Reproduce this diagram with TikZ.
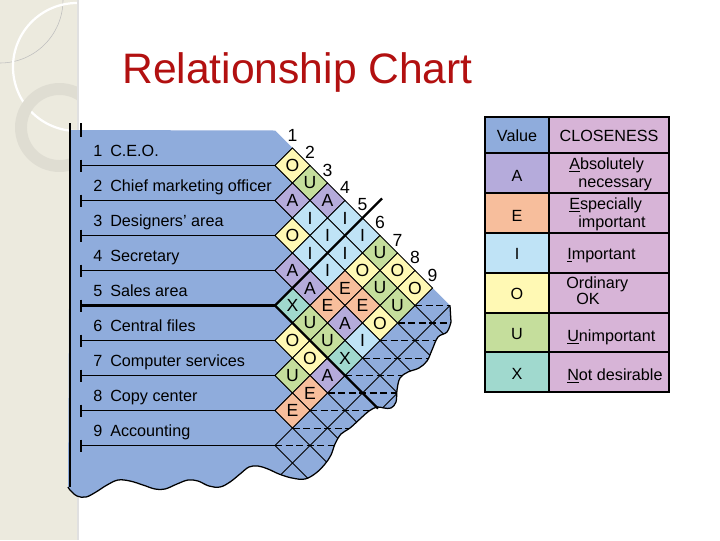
\documentclass[tikz,border=0pt]{standalone}
\usepackage{fontspec}
\setmainfont{Liberation Sans}
\usepackage{tikz}

\definecolor{chartblue}{RGB}{143,172,220}
\definecolor{cA}{RGB}{181,171,219}
\definecolor{cE}{RGB}{247,190,156}
\definecolor{cI}{RGB}{191,227,246}
\definecolor{cO}{RGB}{255,249,180}
\definecolor{cU}{RGB}{197,222,156}
\definecolor{cX}{RGB}{160,217,206}
\definecolor{closepink}{RGB}{215,180,215}
\definecolor{stripbeige}{RGB}{236,234,222}
\definecolor{ringgray}{RGB}{223,221,210}
\definecolor{titlered}{RGB}{178,16,16}

% torn right and bottom edge of the chart
\def\tornedge{-- (450,305.5) -- plot[smooth, tension=0.6] coordinates {(451,322) (447,332) (438,337) (432,350) (427,361) (419,368) (408,372) (400,378) (397,390) (396,402) (391,408) (384,408) (377,407) (369,411) (361,418) (350,428) (341,434) (335,444) (331,455) (325,464) (316,473) (305,479) (292,478) (279,474) (268,469) (258,466) (249,467) (240,474) (230,482) (220,487) (209,486) (198,481) (188,480) (177,484) (165,489) (155,489) (143,485) (130,481) (118,480) (107,485) (96,492) (86,497) (77,496) (70,490) (68,487)}}
\def\chartshape{(70,130) -- (275,130.5) \tornedge -- cycle}

\begin{document}
\begin{tikzpicture}[x=0.025cm, y=-0.025cm,
    txt/.style={font=\fontsize{11.5}{13}\selectfont, inner sep=0pt},
    rate/.style={font=\fontsize{12.5}{14}\selectfont, inner sep=0pt},
    gridln/.style={line width=0.55pt},
    dashln/.style={line width=0.55pt, dash pattern=on 5pt off 2.5pt}]
\useasboundingbox (0,0) rectangle (720,540);
\fill[white] (0,0) rectangle (720,540);
% slide strip
\fill[stripbeige] (0,0) rectangle (78,540);
\begin{scope}
    \clip (0,0) rectangle (78,540);
    \draw[black!25, line width=0.4pt] (0,0) circle (63);
    \draw[white, line width=1.6pt] (77,67) circle (64);
    \draw[ringgray, line width=8.5pt] (59.5,127.5) circle (38.5);
\end{scope}
\draw[black!12, line width=1pt] (78,0) -- (78,540);

\node[anchor=base west, inner sep=0pt, text=titlered, font=\fontsize{30.3}{36}\selectfont] (title) at (122,83) {Relationship Chart};

% chart body
\fill[chartblue] \chartshape;
\begin{scope}
    \clip \chartshape;
    \clip (275,0) rectangle (720,540);
    \foreach \c in {440.5,475.5,...,825.5} \draw[gridln] (\c-600,600) -- (\c,0);
    \foreach \d in {109.5,74.5,...,-230} \draw[gridln] (\d,0) -- (\d+600,600);
    \foreach \ly in {340.5,358,375.5,410.5,428,445.5} \draw[dashln] (720.5-\ly,\ly) -- (470,\ly);
    \foreach \ly in {305.5,323,393} \draw[dashln, line width=1.3pt] (720.5-\ly,\ly) -- (470,\ly);
\end{scope}
\draw[line width=0.9pt] (450,305.5) \tornedge;
\draw[line width=1.1pt] (70,123) -- (70,487);
\draw[line width=1pt] (81,123) -- (81,137);

% departments
\foreach \k/\dept in {1/C.E.O., 2/Chief marketing officer, 3/Designers' area, 4/Secretary, 5/Sales area, 6/Central files, 7/Computer services, 8/Copy center, 9/Accounting} {
    \draw[line width=0.6pt] (81,{130.5+35*\k}) -- (275,{130.5+35*\k});
    \draw[line width=1pt] (81,{124.5+35*\k}) -- (81,{136.5+35*\k});
    \node[txt, anchor=base west] (n\k) at (93,{121.5+35*\k}) {\k};
    \node[txt, anchor=base west] (d\k) at (110,{121.5+35*\k}) {\dept};
    \node[rate] (k\k) at ({275+17.5*\k},{117.5+17.5*\k}) {\k};
}
\draw[line width=1.6pt] (81,305.5) -- (275,305.5);

% closeness ratings
\foreach \i/\j/\v in {1/2/O,1/3/U,2/3/A,1/4/A,2/4/I,3/4/O,1/5/I,2/5/I,3/5/I,4/5/A,1/6/I,2/6/I,3/6/I,4/6/A,5/6/X,1/7/U,2/7/O,3/7/E,4/7/E,5/7/U,6/7/O,1/8/O,2/8/U,3/8/E,4/8/A,5/8/U,6/8/O,7/8/U,1/9/O,2/9/U,3/9/O,4/9/I,5/9/X,6/9/A,7/9/E,8/9/E} {
    \pgfmathsetmacro\cx{275+17.5*(\j-\i)}
    \pgfmathsetmacro\cy{148+17.5*(\i+\j-2)}
    \filldraw[fill=c\v, gridln] (\cx-17.5,\cy) -- (\cx,\cy-17.5) -- (\cx+17.5,\cy) -- (\cx,\cy+17.5) -- cycle;
    \node[rate] (c\i\j) at (\cx,\cy) {\v};
}
\draw[line width=1.6pt] (275,305.5) -- (382,198.5);
\draw[line width=1.6pt] (275,305.5) -- (378,408.5);

% legend
\fill[chartblue] (485,117) rectangle (549,153);
\fill[closepink] (549,117) rectangle (669,392);
\foreach \v/\ya/\yb in {A/153/193, E/193/233, I/233/273, O/273/313, U/313/352, X/352/392}
    \fill[c\v] (485,\ya) rectangle (549,\yb);
\foreach \ly in {153,193,233,273,313,352} \draw[line width=1pt] (485,\ly) -- (669,\ly);
\draw[line width=1pt] (549,117) -- (549,392);
\draw[line width=1.4pt] (485,117) rectangle (669,392);
\node[txt, anchor=base] (vhead) at (517,141) {Value};
\node[txt, anchor=base] (chead) at (609,141) {CLOSENESS};
\foreach \v/\lb in {A/181, E/221, I/259, O/299, U/339, X/379}
    \node[txt, anchor=base] (v\v) at (517,\lb) {\v};
\node[txt, anchor=base west] (lA1) at (569,169) {\underline{A}bsolutely};
\node[txt, anchor=base west] (lA2) at (578,187) {necessary};
\node[txt, anchor=base west] (lE1) at (569,209) {\underline{E}specially};
\node[txt, anchor=base west] (lE2) at (578,227) {important};
\node[txt, anchor=base west] (lI) at (567,259) {\underline{I}mportant};
\node[txt, anchor=base west] (lO1) at (566,288) {Ordinary};
\node[txt, anchor=base west] (lO2) at (576,304) {OK};
\node[txt, anchor=base west] (lU) at (567,341) {\underline{U}nimportant};
\node[txt, anchor=base west] (lX) at (567,380) {\underline{N}ot desirable};
\end{tikzpicture}
\end{document}
